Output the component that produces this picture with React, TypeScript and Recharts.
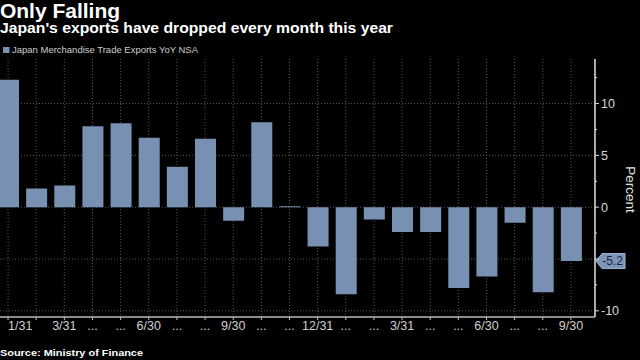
import React from 'react';
import { BarChart, Bar, XAxis, YAxis, CartesianGrid, ReferenceLine } from 'recharts';

const months = [
  '2018-01', '2018-02', '2018-03', '2018-04', '2018-05', '2018-06', '2018-07',
  '2018-08', '2018-09', '2018-10', '2018-11', '2018-12', '2019-01', '2019-02',
  '2019-03', '2019-04', '2019-05', '2019-06', '2019-07', '2019-08', '2019-09',
];
const exportsYoY = [
  12.3, 1.8, 2.1, 7.8, 8.1, 6.7, 3.9, 6.6, -1.3, 8.2, 0.1, -3.8,
  -8.4, -1.2, -2.4, -2.4, -7.8, -6.7, -1.5, -8.2, -5.2,
];
const xTickLabels = [
  '1/31', '', '3/31', '...', '...', '6/30', '...', '...', '9/30', '...', '...', '12/31',
  '...', '...', '3/31', '...', '...', '6/30', '...', '...', '9/30',
];
const yTicks = [-10, -7.5, -5, -2.5, 0, 2.5, 5, 7.5, 10, 12.5];
const yGridValues = [-10, -5, 0, 5, 10];
const seriesName = 'Japan Merchandise Trade Exports YoY NSA';
const lastValue = exportsYoY[exportsYoY.length - 1];

const data = months.map((m, i) => ({ month: m, value: exportsYoY[i] }));

const BAR_COLOR = '#7890b2';
const FONT = '"Liberation Sans", Arial, sans-serif';

const XTick = (props: any) => {
  const { x, y, index } = props;
  const label = xTickLabels[index] ?? '';
  const first = index === 0;
  return (
    <g>
      <line x1={x} x2={x} y1={y} y2={y + 3} stroke="#bbb" strokeWidth={1} />
      <text
        x={x}
        y={y + 13}
        textAnchor={first ? 'start' : 'middle'}
        fill="#cfcfcf"
        fontSize={12.5}
        fontFamily={FONT}
      >
        {label}
      </text>
    </g>
  );
};

const YTick = (props: any) => {
  const { x, y, payload } = props;
  const v = payload.value;
  const major = v % 5 === 0;
  const showLabel = major && v !== -5;
  return (
    <g>
      <line x1={x} x2={x + (major ? 4 : 2)} y1={y} y2={y} stroke="#ddd" strokeWidth={1} />
      {showLabel && (
        <text x={x + 6} y={y} dy="0.36em" fill="#d8d8d8" fontSize={12.5} fontFamily={FONT}>
          {v < 0 ? `-${Math.abs(v)}` : `${v}`}
        </text>
      )}
    </g>
  );
};

const TagLabel = (props: any) => {
  const vb = props.viewBox || {};
  const x = (vb.x ?? 0) + (vb.width ?? 0);
  const y = vb.y ?? 0;
  const tip = x + 1;
  const bx = x + 7;
  const bw = 23;
  const h = 15;
  const pts = `${tip},${y} ${bx},${y - h / 2} ${bx + bw},${y - h / 2} ${bx + bw},${y + h / 2} ${bx},${y + h / 2}`;
  return (
    <g>
      <polygon points={pts} fill="#7d95b8" stroke="#9fb3cf" strokeWidth={1} />
      <text
        x={bx + bw / 2 - 1}
        y={y}
        dy="0.36em"
        textAnchor="middle"
        fill="#17263d"
        fontSize={12}
        fontFamily={FONT}
      >
        {lastValue.toFixed(1)}
      </text>
    </g>
  );
};

export default function App() {
  return (
    <div
      style={{
        position: 'fixed',
        left: 0,
        top: 0,
        width: 640,
        height: 360,
        background: '#000',
        overflow: 'hidden',
      }}
    >
      <svg
        width={640}
        height={360}
        style={{ position: 'absolute', left: 0, top: 0 }}
      >
        <text x={0} y={17.5} fill="#fff" fontSize={20} fontWeight="bold" fontFamily={FONT} textLength={120} lengthAdjust="spacingAndGlyphs">
          Only Falling
        </text>
        <text x={0} y={32.5} fill="#fff" fontSize={14.5} fontWeight="bold" fontFamily={FONT} textLength={393} lengthAdjust="spacingAndGlyphs">
          Japan's exports have dropped every month this year
        </text>
        <rect x={3} y={47} width={6.5} height={6} fill={BAR_COLOR} />
        <text x={12} y={53.3} fill="#cfcfcf" fontSize={9.5} fontFamily={FONT} textLength={186} lengthAdjust="spacingAndGlyphs">
          {seriesName}
        </text>
        <text x={0} y={355.7} fill="#fff" fontSize={9.5} fontWeight="bold" fontFamily={FONT} textLength={143} lengthAdjust="spacingAndGlyphs">
          Source: Ministry of Finance
        </text>
        <text
          x={631}
          y={189.5}
          fill="#e0e0e0"
          fontSize={13.5}
          fontFamily={FONT}
          textAnchor="middle"
          dy="0.36em"
          transform="rotate(90 631 189.5)"
        >
          Percent
        </text>
      </svg>
      <div style={{ position: 'absolute', left: -6, top: 0 }}>
        <BarChart
          width={646}
          height={360}
          data={data}
          margin={{ top: 59, right: 0, bottom: 18, left: 0 }}
          barSize={21}
        >
          <CartesianGrid
            stroke="#5a5a5a"
            strokeDasharray="1 2"
            horizontalValues={yGridValues}
          />
          <XAxis
            dataKey="month"
            interval={0}
            height={25}
            tickSize={0}
            tickMargin={0}
            tickLine={false}
            axisLine={{ stroke: '#bbb', strokeWidth: 1.5 }}
            padding={{ left: 0, right: 10 }}
            tick={<XTick />}
          />
          <YAxis
            orientation="right"
            width={45}
            domain={[-10.6, 14.3]}
            allowDataOverflow
            ticks={yTicks}
            interval={0}
            tickSize={0}
            tickMargin={0}
            tickLine={false}
            axisLine={{ stroke: '#ddd', strokeWidth: 1.5 }}
            tick={<YTick />}
          />
          <Bar dataKey="value" name={seriesName} fill={BAR_COLOR} isAnimationActive={false} />
          <ReferenceLine y={lastValue} stroke="none" label={<TagLabel />} />
        </BarChart>
      </div>
    </div>
  );
}
